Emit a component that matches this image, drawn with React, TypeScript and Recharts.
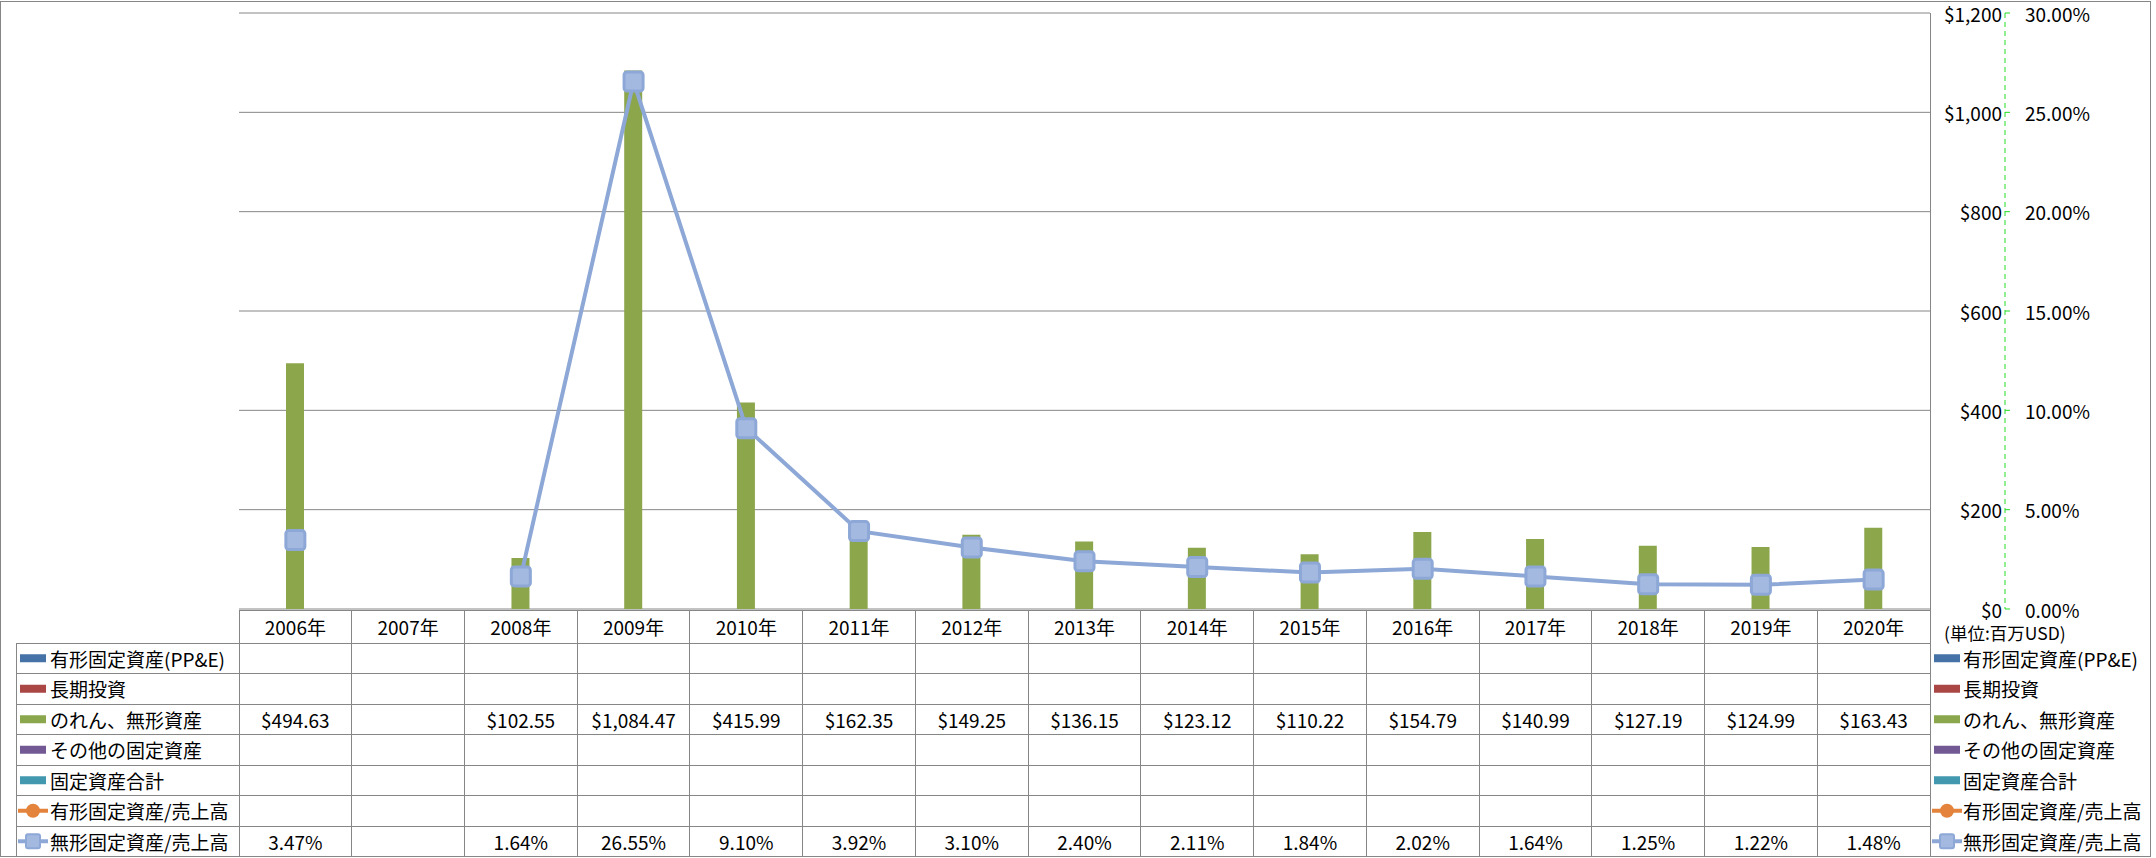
import React from 'react';
import { ComposedChart, Bar, Line, XAxis, YAxis, CartesianGrid } from 'recharts';

const years = ['2006年', '2007年', '2008年', '2009年', '2010年', '2011年', '2012年', '2013年', '2014年', '2015年', '2016年', '2017年', '2018年', '2019年', '2020年'];
const goodwill = [494.63, null, 102.55, 1084.47, 415.99, 162.35, 149.25, 136.15, 123.12, 110.22, 154.79, 140.99, 127.19, 124.99, 163.43];
const intangibleRatio = [3.47, null, 1.64, 26.55, 9.1, 3.92, 3.1, 2.4, 2.11, 1.84, 2.02, 1.64, 1.25, 1.22, 1.48];
const amountTicks = [0, 200, 400, 600, 800, 1000, 1200];
const ratioTicks = [0, 5, 10, 15, 20, 25, 30];
const seriesNames = ['有形固定資産(PP&E)', '長期投資', 'のれん、無形資産', 'その他の固定資産', '固定資産合計', '有形固定資産/売上高', '無形固定資産/売上高'];
const unitLabel = '(単位:百万USD)';

const W = 2156;
const H = 858;
const PLOT_L = 239;
const PLOT_R = 1930;
const PLOT_T = 13;
const PLOT_B = 609;
const TABLE_TOP = 610;
const HEADER_H = 33;
const ROW_H = 30.5;
const TABLE_L = 16;
const BAND = (PLOT_R - PLOT_L) / years.length;

const FONT = '"Noto Sans CJK JP", "Noto Sans", sans-serif';
const GRID = '#868686';
const BAR = '#8CA64C';
const LINE = '#8DA8D6';
const swatchColors = ['#4573A7', '#AA4644', '#8BA74E', '#735994', '#4198AF', '#E3833C', '#8DA8D6'];

const data = years.map((year, i) => ({ year, goodwill: goodwill[i], ratio: intangibleRatio[i] }));

const money = (v: number) =>
  '$' + v.toLocaleString('en-US', { minimumFractionDigits: 2, maximumFractionDigits: 2 });

const rowCenter = (r: number) => TABLE_TOP + HEADER_H + ROW_H * r + ROW_H / 2;

function cellText(row: number, i: number): string {
  if (row === 2 && goodwill[i] != null) return money(goodwill[i] as number);
  if (row === 6 && intangibleRatio[i] != null) return (intangibleRatio[i] as number).toFixed(2) + '%';
  return '';
}

function TableColumn(props: any) {
  const { x, payload } = props;
  const i = payload.index;
  const left = x - BAND / 2;
  const right = x + BAND / 2;
  const bottom = TABLE_TOP + HEADER_H + ROW_H * 7;
  return (
    <g>
      <line x1={left} x2={left} y1={TABLE_TOP} y2={bottom} stroke={GRID} shapeRendering="crispEdges" />
      <line x1={right} x2={right} y1={TABLE_TOP} y2={bottom} stroke={GRID} shapeRendering="crispEdges" />
      <text x={x} y={TABLE_TOP + HEADER_H / 2} textAnchor="middle" dominantBaseline="central" fontSize={19} fontFamily={FONT} fill="#000">
        {payload.value}
      </text>
      {seriesNames.map((_, r) => (
        <text key={r} x={x} y={rowCenter(r)} textAnchor="middle" dominantBaseline="central" fontSize={19} fontFamily={FONT} fill="#000">
          {cellText(r, i)}
        </text>
      ))}
    </g>
  );
}

function AmountTick(props: any) {
  const { y, payload } = props;
  return (
    <text x={2002} y={y} textAnchor="end" dominantBaseline="central" fontSize={19} fontFamily={FONT} fill="#000">
      {'$' + payload.value.toLocaleString('en-US')}
    </text>
  );
}

function RatioTick(props: any) {
  const { y, payload } = props;
  return (
    <text x={2025} y={y} textAnchor="start" dominantBaseline="central" fontSize={19} fontFamily={FONT} fill="#000">
      {payload.value.toFixed(2) + '%'}
    </text>
  );
}

function SquareDot(props: any) {
  const { cx, cy, index } = props;
  if (cy == null || intangibleRatio[index] == null) return <g key={index} />;
  return (
    <rect key={index} x={cx - 9.5} y={cy - 9.5} width={19} height={19} rx={3} fill="#A3B9E0" stroke="#8DA8D6" strokeWidth={3} />
  );
}

function LegendMark({ x, y, k }: { x: number; y: number; k: number }) {
  const c = swatchColors[k];
  if (k === 5) {
    return (
      <g>
        <line x1={x - 2} x2={x + 28} y1={y} y2={y} stroke={c} strokeWidth={4} />
        <circle cx={x + 13} cy={y} r={7} fill={c} />
      </g>
    );
  }
  if (k === 6) {
    return (
      <g>
        <line x1={x - 2} x2={x + 28} y1={y} y2={y} stroke={c} strokeWidth={4} />
        <rect x={x + 6} y={y - 7} width={14} height={14} rx={2} fill="#A3B9E0" stroke={c} strokeWidth={2} />
      </g>
    );
  }
  return <rect x={x} y={y - 4} width={26} height={8} fill={c} />;
}

function Overlay() {
  const bottom = TABLE_TOP + HEADER_H + ROW_H * 7;
  const hLines = [] as number[];
  for (let r = 0; r <= 7; r++) hLines.push(TABLE_TOP + HEADER_H + ROW_H * r);
  return (
    <svg width={W} height={H} style={{ position: 'absolute', left: 0, top: 0, pointerEvents: 'none' }}>
      <rect x={0.5} y={1.5} width={2150} height={855} fill="none" stroke={GRID} />
      <line x1={PLOT_L} x2={PLOT_R} y1={TABLE_TOP} y2={TABLE_TOP} stroke={GRID} shapeRendering="crispEdges" />
      {hLines.map((y, r) => (
        <line key={r} x1={TABLE_L} x2={PLOT_R} y1={y} y2={y} stroke={GRID} shapeRendering="crispEdges" />
      ))}
      <line x1={TABLE_L} x2={TABLE_L} y1={TABLE_TOP + HEADER_H} y2={bottom} stroke={GRID} shapeRendering="crispEdges" />
      <line x1={PLOT_R} x2={PLOT_R} y1={PLOT_T} y2={bottom} stroke={GRID} shapeRendering="crispEdges" />
      {seriesNames.map((name, r) => (
        <g key={'l' + r}>
          <LegendMark x={20} y={rowCenter(r)} k={r} />
          <text x={50} y={rowCenter(r)} dominantBaseline="central" fontSize={19} fontFamily={FONT} fill="#000">
            {name}
          </text>
        </g>
      ))}
      <text x={1944} y={632} dominantBaseline="central" fontSize={17.5} fontFamily={FONT} fill="#000">
        {unitLabel}
      </text>
      {seriesNames.map((name, r) => (
        <g key={'r' + r}>
          <LegendMark x={1934} y={rowCenter(r)} k={r} />
          <text x={1963} y={rowCenter(r)} dominantBaseline="central" fontSize={19} fontFamily={FONT} fill="#000">
            {name}
          </text>
        </g>
      ))}
    </svg>
  );
}

export default function App() {
  return (
    <div style={{ position: 'absolute', left: 0, top: 0, width: W, height: H, background: '#fff' }}>
      <ComposedChart width={W} height={H} data={data} margin={{ top: PLOT_T, right: 0, bottom: 0, left: PLOT_L }}>
        <CartesianGrid yAxisId="amt" vertical={false} stroke={GRID} strokeDasharray="" />
        <XAxis dataKey="year" height={H - PLOT_B} axisLine={false} tickLine={false} tick={<TableColumn />} interval={0} />
        <YAxis
          yAxisId="amt"
          orientation="right"
          width={75}
          domain={[0, 1200]}
          ticks={amountTicks}
          axisLine={false}
          tickLine={false}
          tick={<AmountTick />}
        />
        <YAxis
          yAxisId="pct"
          orientation="right"
          width={W - PLOT_R - 75}
          domain={[0, 30]}
          ticks={ratioTicks}
          axisLine={{ stroke: '#22DD22', strokeDasharray: '5 4' }}
          tickLine={{ stroke: '#22DD22' }}
          tickSize={5}
          tick={<RatioTick />}
        />
        <Bar yAxisId="amt" dataKey="goodwill" fill={BAR} barSize={18} isAnimationActive={false} />
        <Line
          yAxisId="pct"
          dataKey="ratio"
          stroke={LINE}
          strokeWidth={4}
          dot={<SquareDot />}
          activeDot={false}
          connectNulls={false}
          isAnimationActive={false}
        />
      </ComposedChart>
      <Overlay />
    </div>
  );
}
